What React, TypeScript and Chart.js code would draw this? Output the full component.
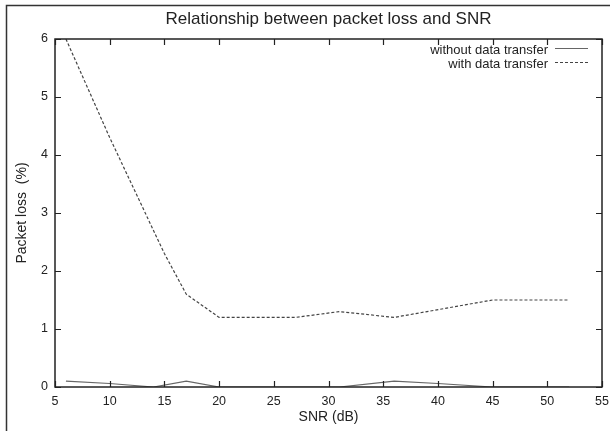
import React, { useEffect, useRef } from "react";
import { Chart, registerables } from "chart.js";

Chart.register(...registerables);

const snrWithout = [6, 10, 14, 17, 20, 31, 36, 40, 45, 52];
const lossWithout = [0.1, 0.06, 0, 0.1, 0, 0, 0.1, 0.06, 0, 0];
const snrWith = [6, 10, 15, 17, 20, 27, 31, 36, 45, 52];
const lossWith = [6, 4.3, 2.3, 1.6, 1.2, 1.2, 1.3, 1.2, 1.5, 1.5];
const seriesNames = ["without data transfer", "with data transfer"];
const xTicks = [5, 10, 15, 20, 25, 30, 35, 40, 45, 50, 55];
const yTicks = [0, 1, 2, 3, 4, 5, 6];
const titleText = "Relationship between packet loss and SNR";
const xTitle = "SNR (dB)";
const yTitle = "Packet loss  (%)";

const FONT = "'Liberation Sans', Arial, sans-serif";

export default function App() {
  const ref = useRef<HTMLCanvasElement | null>(null);
  useEffect(() => {
    document.body.style.margin = "0";
    const canvas = ref.current!;
    const framePlugin = {
      id: "frame",
      beforeDraw(chart: any) {
        const ctx = chart.ctx;
        ctx.save();
        ctx.fillStyle = "#fff";
        ctx.fillRect(0, 0, chart.width, chart.height);
        ctx.strokeStyle = "#333";
        ctx.lineWidth = 1.5;
        ctx.beginPath();
        ctx.moveTo(6.5, chart.height);
        ctx.lineTo(6.5, 5.5);
        ctx.lineTo(chart.width, 5.5);
        ctx.stroke();
        ctx.restore();
      },
      afterDraw(chart: any) {
        const ctx = chart.ctx;
        const a = chart.chartArea;
        const xs = chart.scales.x;
        const ys = chart.scales.y;
        ctx.save();
        // title centred over the plot area
        ctx.font = `17px ${FONT}`;
        ctx.fillStyle = "#222";
        ctx.textAlign = "center";
        ctx.textBaseline = "middle";
        ctx.fillText(titleText, (a.left + a.right) / 2, 19);
        ctx.strokeStyle = "#222";
        ctx.lineWidth = 1.5;
        ctx.strokeRect(a.left, a.top, a.right - a.left, a.bottom - a.top);
        ctx.lineWidth = 1.2;
        ctx.beginPath();
        const tl = 6;
        xTicks.forEach((v) => {
          const px = Math.round(xs.getPixelForValue(v)) + 0.5;
          ctx.moveTo(px, a.bottom);
          ctx.lineTo(px, a.bottom - tl);
          ctx.moveTo(px, a.top);
          ctx.lineTo(px, a.top + tl);
        });
        yTicks.forEach((v) => {
          const py = Math.round(ys.getPixelForValue(v)) + 0.5;
          ctx.moveTo(a.left, py);
          ctx.lineTo(a.left + tl, py);
          ctx.moveTo(a.right, py);
          ctx.lineTo(a.right - tl, py);
        });
        ctx.stroke();
        // legend
        ctx.font = `13px ${FONT}`;
        ctx.fillStyle = "#222";
        ctx.textAlign = "right";
        ctx.textBaseline = "middle";
        const rows = [50, 64];
        const styles = [
          { color: "#666", dash: [] as number[] },
          { color: "#444", dash: [3, 2] },
        ];
        seriesNames.forEach((name, i) => {
          ctx.fillText(name, 548, rows[i]);
          ctx.strokeStyle = styles[i].color;
          ctx.lineWidth = 1.2;
          ctx.setLineDash(styles[i].dash);
          ctx.beginPath();
          ctx.moveTo(555, rows[i] - 1.5);
          ctx.lineTo(588, rows[i] - 1.5);
          ctx.stroke();
        });
        ctx.setLineDash([]);
        ctx.restore();
      },
    };
    const chart = new Chart(canvas, {
      type: "line",
      data: {
        datasets: [
          {
            label: seriesNames[0],
            data: snrWithout.map((x, i) => ({ x, y: lossWithout[i] })),
            borderColor: "#666",
            borderWidth: 1.2,
            pointRadius: 0,
            fill: false,
            tension: 0,
          },
          {
            label: seriesNames[1],
            data: snrWith.map((x, i) => ({ x, y: lossWith[i] })),
            borderColor: "#444",
            borderWidth: 1.2,
            borderDash: [3, 2],
            pointRadius: 0,
            fill: false,
            tension: 0,
          },
        ],
      },
      options: {
        animation: false,
        responsive: false,
        layout: { padding: { top: 39, left: 8, right: 8, bottom: 0 } },
        plugins: {
          legend: { display: false },
          tooltip: { enabled: false },
          title: { display: false },
        },
        scales: {
          x: {
            type: "linear",
            min: 5,
            max: 55,
            afterBuildTicks: (s: any) => {
              s.ticks = xTicks.map((v) => ({ value: v }));
            },
            afterFit: (s: any) => {
              s.height = 44;
              s.paddingLeft = 0;
              s.paddingRight = 0;
            },
            grid: { display: false, drawTicks: false },
            border: { display: false },
            ticks: {
              color: "#222",
              padding: 7,
              maxRotation: 0,
              autoSkip: false,
              font: { family: FONT, size: 12.5 },
            },
            title: {
              display: true,
              text: xTitle,
              color: "#222",
              font: { family: FONT, size: 14 },
              padding: 5,
            },
          },
          y: {
            type: "linear",
            min: 0,
            max: 6,
            afterBuildTicks: (s: any) => {
              s.ticks = yTicks.map((v) => ({ value: v }));
            },
            afterFit: (s: any) => {
              s.width = 47;
              s.paddingTop = 0;
              s.paddingBottom = 0;
            },
            grid: { display: false, drawTicks: false },
            border: { display: false },
            ticks: {
              color: "#222",
              padding: 7,
              autoSkip: false,
              font: { family: FONT, size: 12.5 },
            },
            title: {
              display: true,
              text: yTitle,
              color: "#222",
              font: { family: FONT, size: 14 },
              padding: 6,
            },
          },
        },
      },
      plugins: [framePlugin],
    } as any);
    return () => chart.destroy();
  }, []);
  return (
    <div style={{ width: 610, height: 431 }}>
      <canvas ref={ref} width={610} height={431} style={{ display: "block" }} />
    </div>
  );
}
